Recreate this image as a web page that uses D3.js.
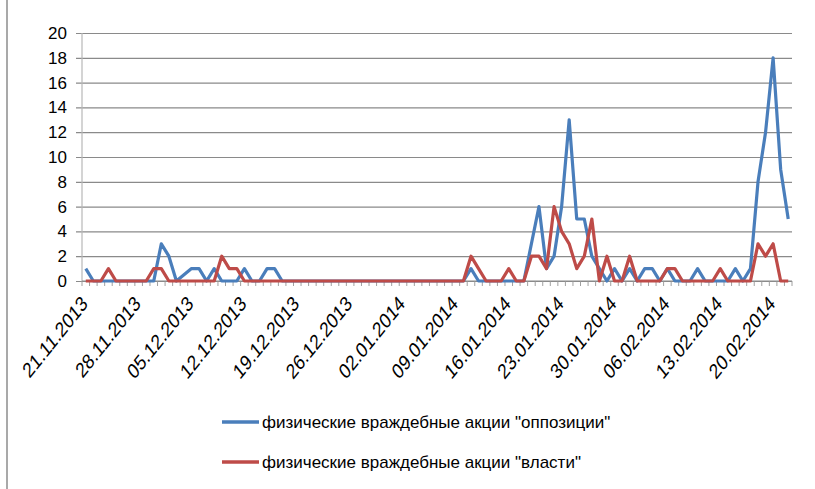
<!DOCTYPE html>
<html>
<head>
<meta charset="utf-8">
<script src="https://cdn.jsdelivr.net/npm/d3@7"></script>
<style>
  body { margin: 0; background: #fff; }
  text { font-family: "Liberation Sans", Arial, sans-serif; fill: #000; }
</style>
</head>
<body>
<div id="container"></div>
<script>
// categories: one per day, 21.11.2013 .. 22.02.2014
const startDay = new Date(2013, 10, 21);
const dayCount = 94;
const fmt = d3.timeFormat('%d.%m.%Y');
const days = d3.timeDay.range(startDay, d3.timeDay.offset(startDay, dayCount)).map(fmt);

const tickLabels = ['21.11.2013', '28.11.2013', '05.12.2013', '12.12.2013', '19.12.2013',
  '26.12.2013', '02.01.2014', '09.01.2014', '16.01.2014', '23.01.2014', '30.01.2014',
  '06.02.2014', '13.02.2014', '20.02.2014'];
const yTicks = [0, 2, 4, 6, 8, 10, 12, 14, 16, 18, 20];

const seriesNames = ['физические враждебные акции "оппозиции"', 'физические враждебные акции "власти"'];

const opposition = [
  1, 0, 0, 0, 0, 0, 0, 0, 0, 0,
  3, 2, 0, 0.5, 1, 1, 0, 1, 0, 0,
  0, 1, 0, 0, 1, 1, 0, 0, 0, 0,
  0, 0, 0, 0, 0, 0, 0, 0, 0, 0,
  0, 0, 0, 0, 0, 0, 0, 0, 0, 0,
  0, 1, 0, 0, 0, 0, 0, 0, 0, 3,
  6, 1, 2, 6, 13, 5, 5, 2, 1, 0,
  1, 0, 1, 0, 1, 1, 0, 1, 0, 0,
  0, 1, 0, 0, 0, 0, 1, 0, 1, 8,
  12, 18, 9, 5
];
const authorities = [
  0, 0, 0, 1, 0, 0, 0, 0, 0, 1,
  1, 0, 0, 0, 0, 0, 0, 0, 2, 1,
  1, 0, 0, 0, 0, 0, 0, 0, 0, 0,
  0, 0, 0, 0, 0, 0, 0, 0, 0, 0,
  0, 0, 0, 0, 0, 0, 0, 0, 0, 0,
  0, 2, 1, 0, 0, 0, 1, 0, 0, 2,
  2, 1, 6, 4, 3, 1, 2, 5, 0, 2,
  0, 0, 2, 0, 0, 0, 0, 1, 1, 0,
  0, 0, 0, 0, 1, 0, 0, 0, 0, 3,
  2, 3, 0, 0
];

const colors = ['#4a7ebb', '#be4b48'];

const w = 815, h = 489;
const plotLeft = 82, plotRight = 792, plotTop = 33, plotBottom = 281;

const svg = d3.select('#container').append('svg')
  .attr('width', w).attr('height', h);

// chart frame (left edge visible)
svg.append('line')
  .attr('x1', 7).attr('x2', 7).attr('y1', 0).attr('y2', h)
  .attr('stroke', '#8c8c8c').attr('stroke-width', 1.5);

const x = d3.scaleBand().domain(days).range([plotLeft, plotRight]).paddingInner(0).paddingOuter(0);
const y = d3.scaleLinear().domain([0, 20]).range([plotBottom, plotTop]);
const cx = d => x(d) + x.bandwidth() / 2;

// gridlines + y labels
const yAxis = d3.axisLeft(y).tickValues(yTicks).tickSize(0).tickPadding(9);
const gy = svg.append('g').attr('transform', 'translate(' + (plotLeft - 6) + ',0)').call(yAxis);
gy.select('.domain').remove();
gy.selectAll('.tick line')
  .attr('x1', 0).attr('x2', plotRight - plotLeft + 6)
  .attr('stroke', '#8a8a8a').attr('stroke-width', 1.2);
gy.selectAll('.tick text').attr('font-size', 17).attr('fill', '#000');

// vertical axis line
svg.append('line')
  .attr('x1', plotLeft).attr('x2', plotLeft).attr('y1', plotTop).attr('y2', plotBottom)
  .attr('stroke', '#b8b8b8').attr('stroke-width', 1.2);

// category tick marks between days
const boundaries = d3.range(days.length + 1).map(i => plotLeft + i * x.bandwidth());
svg.append('g').selectAll('line').data(boundaries).enter().append('line')
  .attr('x1', d => d).attr('x2', d => d)
  .attr('y1', plotBottom).attr('y2', plotBottom + 5)
  .attr('stroke', '#a0a0a0').attr('stroke-width', 1);

svg.append('line')
  .attr('x1', plotLeft).attr('x2', plotRight).attr('y1', plotBottom).attr('y2', plotBottom)
  .attr('stroke', '#8a8a8a').attr('stroke-width', 1.2);

// rotated date labels (source picture is a bit stretched vertically)
svg.append('g').selectAll('text').data(tickLabels).enter().append('text')
  .attr('transform', d => 'translate(' + (cx(d) + 3) + ',' + (plotBottom + 24) + ') scale(1,1.25) rotate(-45)')
  .attr('text-anchor', 'end')
  .attr('font-size', 17)
  .text(d => d);

// series lines
const line = d3.line().x((v, i) => cx(days[i])).y(v => y(v));
[opposition, authorities].forEach((s, k) => {
  svg.append('path').datum(s)
    .attr('d', line)
    .attr('fill', 'none')
    .attr('stroke', colors[k])
    .attr('stroke-width', 3.2)
    .attr('stroke-linejoin', 'round');
});

// legend
const legend = svg.append('g');
seriesNames.forEach((name, k) => {
  const ly = 422 + k * 40;
  legend.append('line')
    .attr('x1', 222).attr('x2', 259).attr('y1', ly).attr('y2', ly)
    .attr('stroke', colors[k]).attr('stroke-width', 3.5);
  legend.append('text')
    .attr('x', 262).attr('y', ly).attr('dy', '0.35em')
    .attr('font-size', 17)
    .text(name);
});
</script>
</body>
</html>
